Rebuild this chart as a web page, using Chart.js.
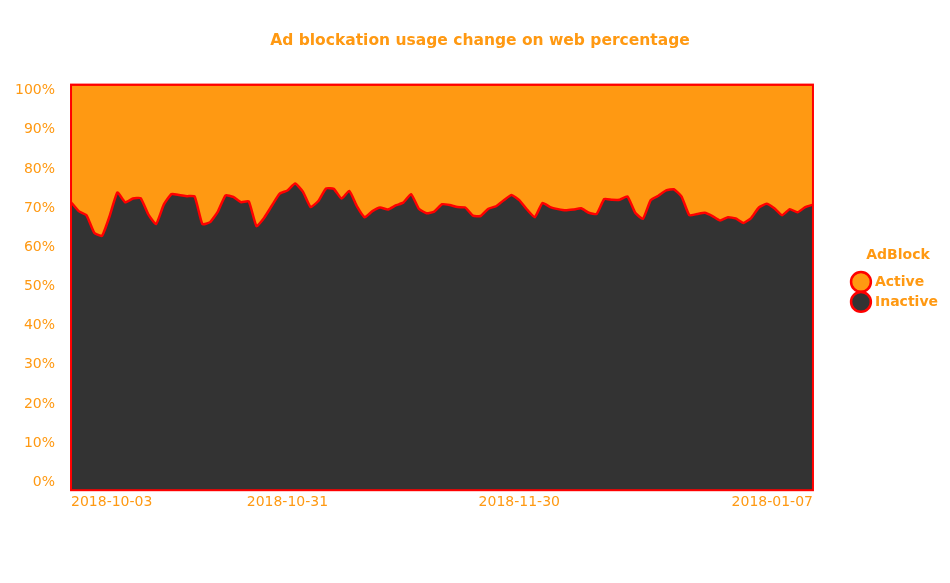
<!DOCTYPE html>
<html lang="en">

<head>
    <meta charset="UTF-8">
    <title>Ad blockation usage</title>
    <style>
        body { margin: 0; background: #fff; }
        #wrap { width: 950px; height: 583px; }
    </style>
</head>

<body>
    <div id="wrap">
        <canvas id="mychart"></canvas>
    </div>

    <script src="https://cdn.jsdelivr.net/npm/chart.js@4.4.1/dist/chart.umd.min.js"></script>
    <script>
        // share of visits without an ad blocker (%), one point per day
        var inactiveData = [
            71.0, 68.8, 67.8, 63.5, 62.7, 67.6, 73.4, 71.0, 71.9, 72.0,
            68.0, 65.6, 70.4, 73.0, 72.8, 72.5, 72.4, 65.6, 66.1, 68.7,
            72.7, 72.3, 71.0, 71.2, 65.1, 67.2, 70.2, 73.1, 73.9, 75.6,
            73.6, 69.8, 71.3, 74.4, 74.3, 71.9, 73.8, 70.0, 67.3, 68.8,
            69.7, 69.2, 70.2, 70.9, 73.0, 69.4, 68.3, 68.7, 70.5, 70.3,
            69.8, 69.7, 67.7, 67.6, 69.4, 70.0, 71.5, 72.8, 71.5, 69.2,
            67.3, 70.8, 69.8, 69.3, 69.0, 69.2, 69.5, 68.4, 68.1, 71.8,
            71.6, 71.6, 72.4, 68.4, 66.9, 71.5, 72.6, 73.9, 74.2, 72.4,
            67.8, 68.1, 68.4, 67.6, 66.5, 67.3, 67.0, 65.9, 67.1, 69.7,
            70.6, 69.5, 67.8, 69.3, 68.5, 69.8, 70.4
        ];
        // the rest of the visits have it switched on
        var activeData = inactiveData.map(function (v) { return +(100 - v).toFixed(1); });

        // one category per day starting 2018-10-03
        var dayLabels = [];
        for (var d = 0; d < inactiveData.length; d++) {
            var dt = new Date(Date.UTC(2018, 9, 3 + d));
            dayLabels.push(dt.toISOString().slice(0, 10));
        }

        // only these show up under the axis (text as in the original)
        var tickIndex = [0, 28, 58, 96];
        var tickLabels = ['2018-10-03', '2018-10-31', '2018-11-30', '2018-01-07'];

        var orange = '#ff9912';
        var dark = '#333333';
        var red = '#ff0000';

        // red frame round the plot area
        var frame = {
            id: 'frame',
            afterDatasetsDraw: function (chart) {
                var a = chart.chartArea;
                var c = chart.ctx;
                c.save();
                c.strokeStyle = red;
                c.lineWidth = 2;
                c.strokeRect(a.left, a.top, a.right - a.left, a.bottom - a.top);
                c.restore();
            }
        };

        // nudge legend and title to where the original has them
        var boxShift = {
            id: 'boxShift',
            afterLayout: function (chart) {
                var l = chart.legend;
                if (l) {
                    l.left += 35; l.right += 35;
                    l.top += 28; l.bottom += 28;
                }
                var t = chart.titleBlock;
                if (t) {
                    t.left += 20; t.right += 20;
                }
            }
        };

        const ctx = document.getElementById('mychart');

        var mychart = new Chart(ctx, {
            type: 'line',
            data: {
                labels: dayLabels,
                datasets: [{
                    label: 'Inactive',
                    data: inactiveData,
                    backgroundColor: dark,
                    borderColor: red,
                    borderWidth: 2.5,
                    fill: 'origin',
                    pointRadius: 0,
                    tension: 0.15
                }, {
                    label: 'Active',
                    data: activeData,
                    backgroundColor: orange,
                    borderColor: red,
                    borderWidth: 2.5,
                    fill: '-1',
                    pointRadius: 0,
                    tension: 0.15
                }]
            },
            plugins: [frame, boxShift],
            options: {
                responsive: true,
                maintainAspectRatio: false,
                animation: false,
                layout: {
                    padding: { left: 7, right: 37, top: 0, bottom: 76 }
                },
                plugins: {
                    title: {
                        display: true,
                        text: 'Ad blockation usage change on web percentage',
                        color: orange,
                        font: { family: 'DejaVu Sans', size: 15.5, weight: 'bold' },
                        padding: { top: 32, bottom: 34 }
                    },
                    legend: {
                        position: 'right',
                        reverse: true,
                        title: {
                            display: true,
                            text: 'AdBlock',
                            color: orange,
                            font: { family: 'DejaVu Sans', size: 14, weight: 'bold' },
                            padding: { top: 0, bottom: 4 }
                        },
                        labels: {
                            color: orange,
                            usePointStyle: true,
                            pointStyle: 'circle',
                            boxHeight: 14,
                            padding: 6,
                            font: { family: 'DejaVu Sans', size: 14, weight: 'bold' }
                        }
                    },
                    tooltip: { enabled: false }
                },
                scales: {
                    x: {
                        grid: { display: false },
                        border: { display: false },
                        ticks: {
                            autoSkip: false,
                            maxRotation: 0,
                            align: 'inner',
                            color: orange,
                            padding: -4,
                            font: { family: 'DejaVu Sans', size: 14 },
                            callback: function (val, i) {
                                var k = tickIndex.indexOf(i);
                                return k < 0 ? '' : tickLabels[k];
                            }
                        }
                    },
                    // the data scale, kept hidden
                    y: {
                        stacked: true,
                        min: 0,
                        max: 100,
                        display: false
                    },
                    // the percent labels sit a little inside the frame in the original
                    yLabels: {
                        type: 'linear',
                        position: 'left',
                        min: -2.04,
                        max: 101.53,
                        grid: { display: false },
                        border: { display: false },
                        ticks: {
                            stepSize: 10,
                            includeBounds: false,
                            color: orange,
                            padding: 8,
                            font: { family: 'DejaVu Sans', size: 14 },
                            callback: function (v) {
                                return (v >= 0 && v % 10 === 0) ? v + '%' : '';
                            }
                        }
                    }
                }
            }
        });
    </script>
</body>

</html>
